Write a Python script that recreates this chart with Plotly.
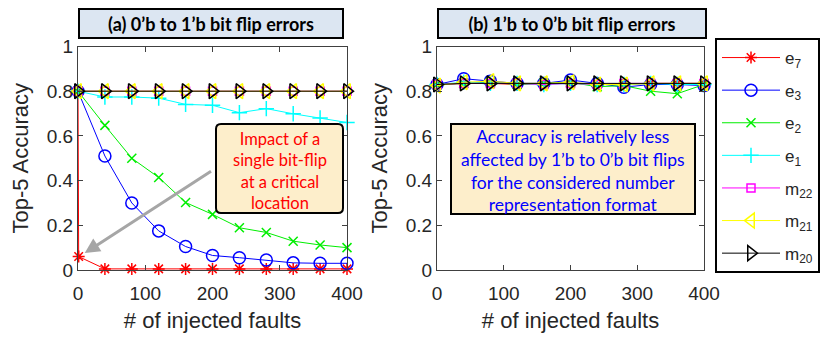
import plotly.graph_objects as go

W, H = 831, 343
OFF = 8  # page body margin in front of the figure

# data
faults = [0, 40, 80, 120, 160, 200, 240, 280, 320, 360, 400]
e7_faults = [0, 1, 40, 80, 120, 160, 200, 240, 280, 320, 360, 400]

# (a) 0'b -> 1'b
a_e7 = [0.80, 0.06, 0.005, 0.005, 0.005, 0.005, 0.005, 0.005, 0.005, 0.005, 0.005, 0.005]
a_e3 = [0.80, 0.51, 0.30, 0.175, 0.105, 0.065, 0.055, 0.045, 0.032, 0.03, 0.03]
a_e2 = [0.80, 0.647, 0.50, 0.414, 0.302, 0.249, 0.189, 0.168, 0.129, 0.112, 0.10]
a_e1 = [0.80, 0.774, 0.774, 0.769, 0.741, 0.737, 0.704, 0.722, 0.699, 0.68, 0.66]
a_m22 = [0.80] * 11
a_m21 = [0.80] * 11
a_m20 = [0.80] * 11

# (b) 1'b -> 0'b
b_e7 = [0.83, 0.835, 0.835, 0.83, 0.835, 0.835, 0.83, 0.83, 0.835, 0.835, 0.835]
b_e3 = [0.83, 0.856, 0.845, 0.835, 0.835, 0.85, 0.835, 0.818, 0.83, 0.83, 0.825]
b_e2 = [0.83, 0.835, 0.84, 0.83, 0.835, 0.84, 0.82, 0.825, 0.80, 0.789, 0.83]
b_e1 = [0.83, 0.84, 0.835, 0.835, 0.83, 0.835, 0.83, 0.83, 0.835, 0.83, 0.83]
b_m22 = [0.83, 0.835, 0.835, 0.835, 0.83, 0.835, 0.83, 0.835, 0.835, 0.835, 0.835]
b_m21 = [0.825, 0.84, 0.845, 0.835, 0.835, 0.84, 0.83, 0.83, 0.835, 0.835, 0.835]
b_m20 = [0.83, 0.835, 0.835, 0.835, 0.835, 0.835, 0.835, 0.835, 0.835, 0.835, 0.835]

series = [
    # name, color, symbol, size, a values, b values
    ("e<sub>7</sub>", "#ff0000", "asterisk-open", 10, a_e7, b_e7),
    ("e<sub>3</sub>", "#0000ff", "circle-open", 12, a_e3, b_e3),
    ("e<sub>2</sub>", "#00ee00", "x-thin-open", 9, a_e2, b_e2),
    ("e<sub>1</sub>", "#00ffff", "cross-thin-open", 11, a_e1, b_e1),
    ("m<sub>22</sub>", "#ff00ff", "square-open", 8, a_m22, b_m22),
    ("m<sub>21</sub>", "#ffff00", "triangle-left-open", 13, a_m21, b_m21),
    ("m<sub>20</sub>", "#000000", "triangle-right-open", 13, a_m20, b_m20),
]


def px(x):
    return (x - OFF) / W


def py(y):
    return 1 - (y - OFF) / H


fig = go.Figure()

for i, (name, color, symbol, size, ya, yb) in enumerate(series):
    xa = e7_faults if i == 0 else faults
    fig.add_trace(go.Scatter(
        x=xa, y=ya, name=name, mode="lines+markers",
        line=dict(color=color, width=1),
        marker=dict(symbol=symbol, size=size, color=color,
                    line=dict(color=color, width=1.5)),
        cliponaxis=False, legendgroup=f"g{i}",
        xaxis="x", yaxis="y",
    ))
    fig.add_trace(go.Scatter(
        x=faults, y=yb, name=name, mode="lines+markers",
        line=dict(color=color, width=1),
        marker=dict(symbol=symbol, size=size, color=color,
                    line=dict(color=color, width=1.5)),
        cliponaxis=False, showlegend=False, legendgroup=f"g{i}",
        xaxis="x2", yaxis="y2",
    ))

axis_font = "Liberation Sans, Arial"
axis_common = dict(
    showline=True, linecolor="#404040", linewidth=1, mirror="ticks",
    ticks="inside", ticklen=5, tickcolor="#404040",
    showgrid=False, zeroline=False,
    tickfont=dict(family=axis_font, size=19, color="#262626"),
)
xcommon = dict(axis_common, range=[0, 400], tickvals=[0, 100, 200, 300, 400],
               ticklabelstandoff=6,
               title=dict(text="# of injected faults", standoff=9,
                          font=dict(family=axis_font, size=22, color="#262626")))
ycommon = dict(axis_common, range=[0, 1], tickvals=[0, 0.2, 0.4, 0.6, 0.8, 1],
               ticktext=["0", "0.2", "0.4", "0.6", "0.8", "1"],
               title=dict(text="Top-5 Accuracy", standoff=12,
                          font=dict(family=axis_font, size=22, color="#262626")))

y_dom = [py(270), py(46.5)]

fig.update_layout(
    width=W, height=H,
    margin=dict(l=0, r=0, t=0, b=0, autoexpand=False),
    paper_bgcolor="white", plot_bgcolor="white",
    xaxis=dict(xcommon, domain=[px(78), px(347)], anchor="y"),
    yaxis=dict(ycommon, domain=y_dom, anchor="x"),
    xaxis2=dict(xcommon, domain=[px(437), px(704)], anchor="y2"),
    yaxis2=dict(ycommon, domain=y_dom, anchor="x2"),
    legend=dict(
        x=px(715), y=py(38), xanchor="left", yanchor="top",
        bordercolor="black", borderwidth=2, bgcolor="white",
        font=dict(family=axis_font, size=17, color="#262626"),
        tracegroupgap=7.5, itemwidth=58,
    ),
)

# rounded annotation box in panel (a)
x0, x1, y0, y1, r = px(216), px(343), py(213), py(124), 5
rx, ry = r / W, r / H
path = (f"M {x0+rx},{y0} L {x1-rx},{y0} Q {x1},{y0} {x1},{y0+ry} "
        f"L {x1},{y1-ry} Q {x1},{y1} {x1-rx},{y1} L {x0+rx},{y1} "
        f"Q {x0},{y1} {x0},{y1-ry} L {x0},{y0+ry} Q {x0},{y0} {x0+rx},{y0} Z")

# arrow to the single bit-flip point
fig.add_annotation(
    x=10, y=0.076, ax=200, ay=0.446, xref="x", yref="y", axref="x", ayref="y",
    text="", showarrow=True, arrowhead=2, arrowsize=1, arrowwidth=3,
    arrowcolor="#a6a6a6",
)

fig.add_shape(type="path", path=path, xref="paper", yref="paper",
              fillcolor="#fdeecb", line=dict(color="black", width=2), layer="above")

fig.add_annotation(
    x=px(279.5), y=py(170.5), xref="paper", yref="paper", showarrow=False,
    xanchor="center", yanchor="middle",
    text="Impact of a<br>single bit-flip<br>at a critical<br>location",
    font=dict(family="Lato", size=16.5, color="#ff0000"), align="center",
)

# panel (b) box
fig.add_shape(type="rect", x0=px(451), x1=px(695), y0=py(214), y1=py(124),
              xref="paper", yref="paper", fillcolor="#fdeecb",
              line=dict(color="black", width=2), layer="above")
fig.add_annotation(
    x=px(573), y=py(170.5), xref="paper", yref="paper", showarrow=False,
    xanchor="center", yanchor="middle",
    text="Accuracy is relatively less<br>affected by 1\u2019b to 0\u2019b bit flips<br>"
         "for the considered number<br>representation format",
    font=dict(family="Lato", size=17.5, color="#0000ff"), align="center",
)

# panel titles
for xc, wbox, label in [(211, 266, "(a) 0\u2019b to 1\u2019b bit flip errors"),
                        (572, 270, "(b) 1\u2019b to 0\u2019b bit flip errors")]:
    fig.add_annotation(
        x=px(xc), y=py(23.5), xref="paper", yref="paper", showarrow=False,
        xanchor="center", yanchor="middle",
        text=f"<b>{label}</b>", width=wbox - 4, height=27,
        bgcolor="#dce6f2", bordercolor="black", borderwidth=2, borderpad=0,
        font=dict(family="Lato", size=18, color="black"),
    )

fig.write_html("out.html")
